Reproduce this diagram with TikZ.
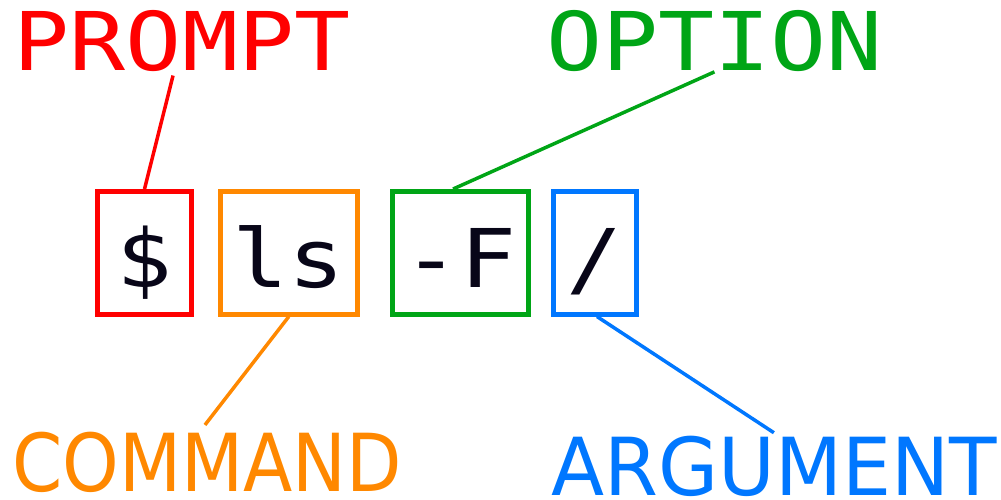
\documentclass[tikz,border=0pt]{standalone}
\usepackage{fontspec}
\usepackage{xcolor}
\usetikzlibrary{positioning}
\newfontfamily\monofont[FakeStretch=1.15]{DejaVu Sans Mono}
\newfontfamily\cmdfont[FakeStretch=0.90]{DejaVu Sans}
\newfontfamily\argfont[FakeStretch=0.97]{DejaVu Sans}
\definecolor{pred}{RGB}{255,0,0}
\definecolor{porange}{RGB}{255,136,0}
\definecolor{pgreen}{RGB}{0,165,22}
\definecolor{pblue}{RGB}{0,119,255}
\definecolor{ink}{RGB}{8,6,24}
\tikzset{cbox/.style={draw=#1,line width=5pt,inner sep=0pt,minimum height=122.5pt,text height=68.4pt,text depth=0pt,text=ink,font=\monofont\fontsize{81}{81}\selectfont}}
\tikzset{lblm/.style={text=#1,inner sep=0pt,anchor=base west,font=\monofont\fontsize{81}{81}\selectfont}}
\tikzset{lbls/.style={text=#1,inner sep=0pt,anchor=base west}}
\tikzset{lead/.style={draw=#1,line width=3.5pt}}

\begin{document}
\begin{tikzpicture}[x=1pt,y=-1pt]
        \useasboundingbox (0,0) rectangle (1001,499);
        \node[cbox=pred,minimum width=94pt] (dollar) at (144.5,252.8) {\$};
        \node[cbox=porange,minimum width=136.5pt] (ls) at (288.8,252.8) {ls};
        \node[cbox=pgreen,minimum width=136pt] (flag) at (460,252.8) {-F};
        \node[cbox=pblue,minimum width=83pt] (root) at (595,252.8) {/};
        \node[lblm=pred] (prompt) at (13.6,70.7) {PROMPT};
        \node[lblm=pgreen] (option) at (546,70.5) {OPTION};
        \node[lbls=porange,font=\cmdfont\fontsize{80}{80}\selectfont] (command) at (11.9,491) {COMMAND};
        \node[lbls=pblue,font=\argfont\fontsize{80}{80}\selectfont] (argument) at (551,495) {ARGUMENT};

        \draw [lead=pred] ([xshift=-9pt,yshift=-3.5pt]prompt.south) to [] (dollar.north);
        \draw [lead=pgreen] (option.south) to [] ([xshift=-7pt]flag.north);
        \draw [lead=porange] (ls.south) to [] ([xshift=-2pt,yshift=6.5pt]command.north);
        \draw [lead=pblue] ([xshift=2pt]root.south) to [] ([yshift=2.7pt]argument.north);
    \end{tikzpicture}
\end{document}
